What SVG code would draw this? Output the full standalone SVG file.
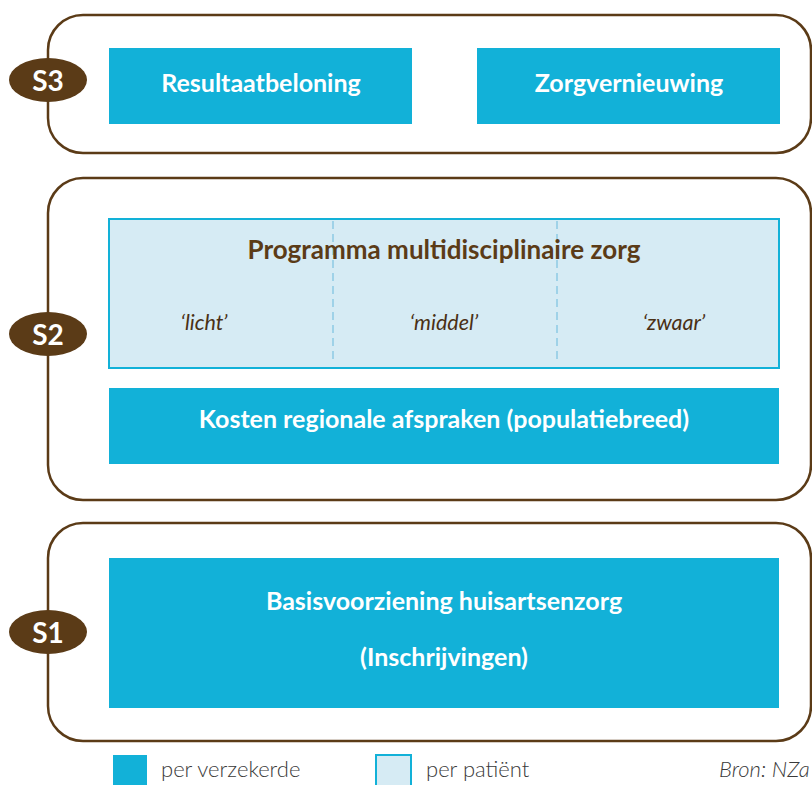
<svg xmlns="http://www.w3.org/2000/svg" width="812" height="785" viewBox="0 0 812 785">
<style>
.panel{fill:#fff;stroke:#5b3b17;stroke-width:2.5}
.badge{fill:#5b3b17}
.badgetxt{fill:#fff;font-family:"Lato","Liberation Sans",sans-serif;font-weight:bold;font-size:28px;text-anchor:middle}
.blue{fill:#12b1d8}
.light{fill:#d6ebf4;stroke:#12b1d8;stroke-width:2}
.wtxt{fill:#fff;font-family:"Lato","Liberation Sans",sans-serif;font-weight:bold;font-size:25px;text-anchor:middle}
.btxt{fill:#5b3b17;font-family:"Lato","Liberation Sans",sans-serif;font-weight:bold;font-size:26px;text-anchor:middle}
.itxt{fill:#4a3015;font-family:"Lato","Liberation Sans",sans-serif;font-style:italic;font-size:21.5px;text-anchor:middle}
.dash{stroke:#9fd2e8;stroke-width:2;stroke-dasharray:8,5}
.leg{fill:#3a3a3a;font-family:"Lato","Liberation Sans",sans-serif;font-weight:300;font-size:22px}
</style>
<g id="S3">
<rect class="panel" x="48" y="15" width="763" height="138" rx="35"/>
<ellipse class="badge" cx="48" cy="80" rx="39" ry="22"/>
<text class="badgetxt" x="48" y="91">S3</text>
</g>
<g id="resultaatbeloning">
<rect class="blue" x="109" y="48" width="303" height="76"/>
<text class="wtxt" x="261" y="92">Resultaatbeloning</text>
</g>
<g id="zorgvernieuwing">
<rect class="blue" x="477" y="48" width="303" height="76"/>
<text class="wtxt" x="629" y="92">Zorgvernieuwing</text>
</g>
<g id="S2">
<rect class="panel" x="48" y="178" width="763" height="322" rx="35"/>
<ellipse class="badge" cx="48" cy="334" rx="39" ry="22"/>
<text class="badgetxt" x="48" y="345">S2</text>
</g>
<g id="programma">
<rect class="light" x="109" y="219" width="670" height="149"/>
<line class="dash" x1="333" y1="221" x2="333" y2="364"/>
<line class="dash" x1="557" y1="221" x2="557" y2="364"/>
<text class="btxt" x="444" y="259">Programma multidisciplinaire zorg</text>
<text class="itxt" x="204" y="330">‘licht’</text>
<text class="itxt" x="444" y="330">‘middel’</text>
<text class="itxt" x="674" y="330">‘zwaar’</text>
</g>
<g id="kosten">
<rect class="blue" x="109" y="388" width="670" height="76"/>
<text class="wtxt" x="444" y="428">Kosten regionale afspraken (populatiebreed)</text>
</g>
<g id="S1">
<rect class="panel" x="48" y="523" width="763" height="218" rx="35"/>
<ellipse class="badge" cx="48" cy="632" rx="39" ry="22"/>
<text class="badgetxt" x="48" y="643">S1</text>
</g>
<g id="basis">
<rect class="blue" x="109" y="558" width="670" height="150"/>
<text class="wtxt" x="444" y="610">Basisvoorziening huisartsenzorg</text>
<text class="wtxt" x="444" y="666">(Inschrijvingen)</text>
</g>
<g id="legend">
<rect class="blue" x="113" y="755" width="34" height="34"/>
<text class="leg" x="161" y="777">per verzekerde</text>
<rect class="light" x="376" y="755" width="35" height="34"/>
<text class="leg" x="426" y="777">per patiënt</text>
<text class="leg" x="719" y="777" font-style="italic">Bron: NZa</text>
</g>
<g id="connectors"></g>
</svg>
